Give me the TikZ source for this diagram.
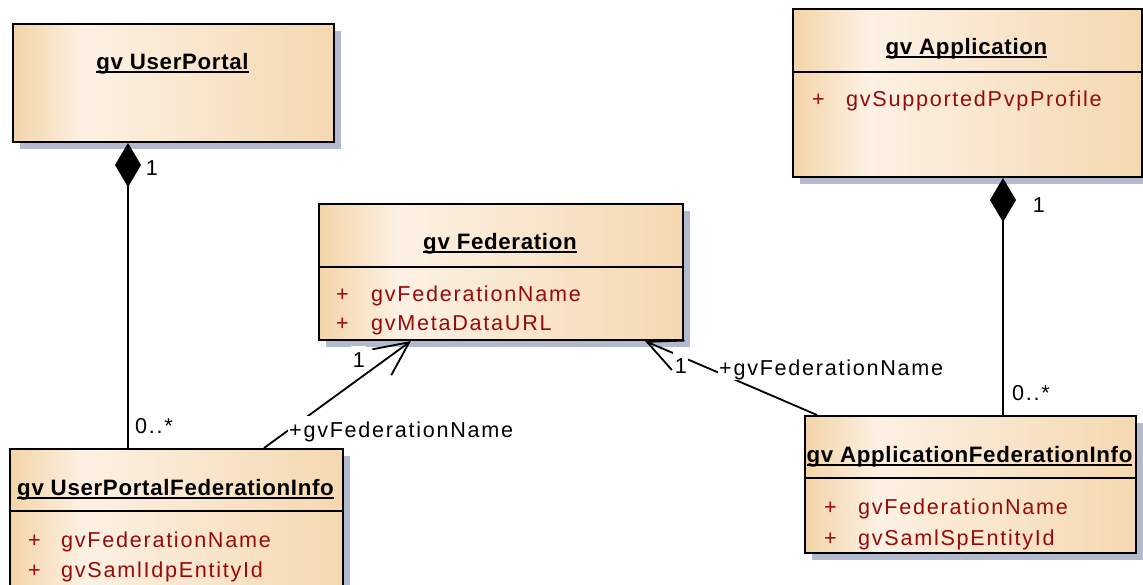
\documentclass[tikz,border=0pt]{standalone}
\usepackage{fontspec}
\setmainfont{Liberation Sans}
\newfontfamily\lblfont{Liberation Sans}[LetterSpace=8]
\newfontfamily\ttlfont{Liberation Sans}[LetterSpace=3]
\usetikzlibrary{arrows.meta,shadows}

\definecolor{clsEdge}{RGB}{243,212,168}
\definecolor{clsLight}{RGB}{252,241,228}
\definecolor{clsRight}{RGB}{245,216,176}
\definecolor{clsShadow}{RGB}{180,186,206}
\definecolor{attrRed}{RGB}{150,10,10}

% class box fill: darker left edge, bright band, warm towards the right
\pgfdeclarehorizontalshading{classfill}{100bp}{color(0bp)=(clsEdge); color(25bp)=(clsEdge); color(36bp)=(clsLight); color(75bp)=(clsRight); color(100bp)=(clsRight)}

% underlined class name
\newsavebox\ttlbox
\newcommand\ttlul[1]{\sbox\ttlbox{#1}\rlap{\rule[-3.6pt]{\wd\ttlbox}{1.8pt}}\usebox\ttlbox}

\tikzset{
  cls/.style={draw=black, line width=2pt, shade, shading=classfill,
    drop shadow={shadow xshift=7pt, shadow yshift=-7pt, fill=clsShadow, opacity=1},
    anchor=north west, inner sep=0pt},
  ttl/.style={anchor=base, inner sep=0pt,
    font=\ttlfont\bfseries\fontsize{22.3}{26}\selectfont},
  attr/.style={anchor=base west, inner sep=0pt, text=attrRed,
    font=\lblfont\fontsize{21.6}{26}\selectfont},
  sepline/.style={line width=2pt},
  lbl/.style={anchor=base west, inner sep=0pt,
    font=\lblfont\fontsize{21.6}{26}\selectfont},
  wlbl/.style={lbl, fill=white, inner xsep=1.5pt, inner ysep=1.5pt,
    text height=20pt, text depth=3pt},
  compo/.style={line width=2pt, {Diamond[length=44pt,width=26pt]}-},
  assoc/.style={line width=1.8pt, -{Straight Barb[length=34pt,width=32pt]}}
}

\begin{document}
\begin{tikzpicture}[x=1pt,y=-1pt]
\useasboundingbox (0,0) rectangle (1143,584);
\clip (0,0) rectangle (1143,584);

% classes
\node[cls, minimum width=321pt, minimum height=118pt] (UP) at (12,23) {};
\node[cls, minimum width=349pt, minimum height=168pt] (App) at (792,8) {};
\node[cls, minimum width=364pt, minimum height=136pt] (Fed) at (318,203) {};
\node[cls, minimum width=333pt, minimum height=160pt] (UPFI) at (9,448) {};
\node[cls, minimum width=331pt, minimum height=137pt] (AFI) at (804,415) {};

% compartment separators
\draw[sepline] ([yshift=-64pt]App.north west) -- ([yshift=-64pt]App.north east);
\draw[sepline] ([yshift=-64pt]Fed.north west) -- ([yshift=-64pt]Fed.north east);
\draw[sepline] ([yshift=-63pt]UPFI.north west) -- ([yshift=-63pt]UPFI.north east);
\draw[sepline] ([yshift=-63pt]AFI.north west) -- ([yshift=-63pt]AFI.north east);

% class names
\node[ttl] (UPt) at (172.5,69) {\ttlul{gv UserPortal}};
\node[ttl] (Appt) at (966.5,54) {\ttlul{gv Application}};
\node[ttl] (Fedt) at (500,249) {\ttlul{gv Federation}};
\node[ttl] (UPFIt) at (175.5,495) {\ttlul{gv UserPortalFederationInfo}};
\node[ttl] (AFIt) at (969.5,462) {\ttlul{gv ApplicationFederationInfo}};

% attributes
\node[attr] (Appv1) at (812,106) {+};
\node[attr] (Appa1) at (846,106) {gvSupportedPvpProfile};
\node[attr] (Fedv1) at (336,301) {+};
\node[attr] (Feda1) at (371,301) {gvFederationName};
\node[attr] (Fedv2) at (336,330) {+};
\node[attr] (Feda2) at (371,330) {gvMetaDataURL};
\node[attr] (UPFIv1) at (28,547) {+};
\node[attr] (UPFIa1) at (61,547) {gvFederationName};
\node[attr] (UPFIv2) at (28,577) {+};
\node[attr] (UPFIa2) at (61,577) {gvSamlIdpEntityId};
\node[attr] (AFIv1) at (824,514) {+};
\node[attr] (AFIa1) at (858,514) {gvFederationName};
\node[attr] (AFIv2) at (824,545) {+};
\node[attr] (AFIa2) at (858,545) {gvSamlSpEntityId};

% compositions
\draw[compo] ([xshift=116pt]UP.south west) -- ([xshift=119pt]UPFI.north west);
\draw[compo] ([xshift=211pt]App.south west) -- ([xshift=199pt]AFI.north west);

% directed associations
\draw[assoc] ([xshift=255pt]UPFI.north west) -- ([xshift=93pt]Fed.south west);
\draw[assoc] ([xshift=13pt]AFI.north west) -- ([xshift=327pt]Fed.south west);

% multiplicities and role names
\node[lbl] (m1) at (145.6,175) {1};
\node[lbl] (m2) at (135,433) {0..*};
\node[lbl] (m3) at (1032.6,212) {1};
\node[lbl] (m4) at (1012,400) {0..*};
\node[wlbl] (m5) at (351.1,367) {1};
\node[wlbl] (m6) at (673.1,373) {1};
\node[wlbl] (r1) at (287.5,437) {+gvFederationName};
\node[wlbl] (r2) at (717.5,375) {+gvFederationName};
\end{tikzpicture}
\end{document}
